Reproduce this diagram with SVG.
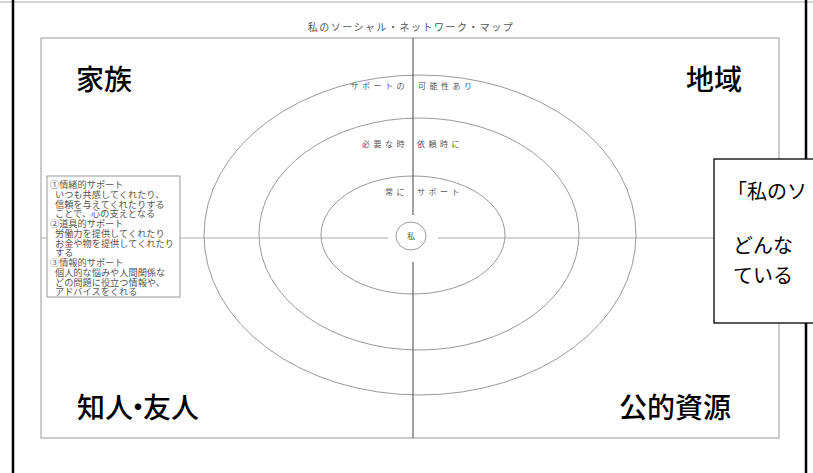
<svg xmlns="http://www.w3.org/2000/svg" width="813" height="473" viewBox="0 0 813 473">
<style>
.jp{font-family:"Noto Sans CJK JP","Noto Sans",sans-serif}
.big{font-size:28px;fill:#000;font-weight:500}
.ring{font-size:8px;fill:#555;letter-spacing:3.5px}
.note{font-size:9.2px;fill:#555}
.thin{fill:none;stroke:#999;stroke-width:1}
.axis{stroke:#444;stroke-width:1}
.haxis{stroke:#aaa;stroke-width:1}
.call{font-size:20px;fill:#000}
</style>
<rect width="813" height="473" fill="#fff"/>
<g id="frame">
<line x1="0" y1="2" x2="813" y2="2" stroke="#aaa" stroke-width="1"/>
<line x1="13" y1="0" x2="13" y2="473" stroke="#000" stroke-width="2.5"/>
<line x1="806" y1="0" x2="806" y2="473" stroke="#000" stroke-width="2.5"/>
</g>
<text class="jp" x="411" y="31" font-size="10" fill="#555" text-anchor="middle" letter-spacing="1.5">私のソーシャル・ネットワーク・マップ</text>
<g id="map">
<rect x="41" y="38" width="738" height="400" class="thin"/>
<ellipse cx="420" cy="235" rx="216" ry="160" class="thin"/>
<ellipse cx="419" cy="234" rx="160" ry="116" class="thin"/>
<ellipse cx="413" cy="235" rx="92" ry="59" class="thin"/>
</g>
<g id="connectors">
<line x1="413" y1="38" x2="413" y2="215" class="axis"/>
<line x1="413" y1="262" x2="413" y2="438" class="axis"/>
<line x1="41" y1="238" x2="388" y2="238" class="haxis"/>
<line x1="438" y1="238" x2="779" y2="238" class="haxis"/>
</g>
<g id="me">
<ellipse cx="411" cy="236" rx="15" ry="14" class="thin"/>
<text class="jp" x="411" y="239" font-size="8" fill="#555" text-anchor="middle">私</text>
</g>
<g id="ring-labels" class="jp ring">
<text x="408" y="89" text-anchor="end">サポートの</text>
<text x="418" y="89">可能性あり</text>
<text x="408" y="147" text-anchor="end">必要な時</text>
<text x="417" y="147">依頼時に</text>
<text x="408" y="195" text-anchor="end">常に</text>
<text x="417" y="195">サポート</text>
</g>
<g id="family"><text class="jp big" x="76" y="90">家族</text></g>
<g id="community"><text class="jp big" x="686" y="90">地域</text></g>
<g id="friends"><text class="jp big" x="77" y="418">知人<tspan dx="-9">・</tspan><tspan dx="-9">友人</tspan></text></g>
<g id="public"><text class="jp big" x="619" y="418">公的資源</text></g>
<g id="legend">
<rect x="47" y="176" width="133" height="121" fill="#fff" stroke="#999" stroke-width="1"/>
<text class="jp note"><tspan x="50" y="188">①情緒的サポート</tspan><tspan x="55" y="198">いつも共感してくれたり、</tspan><tspan x="55" y="208">信頼を与えてくれたりする</tspan><tspan x="55" y="217">ことで、心の支えとなる</tspan><tspan x="50" y="227">②道具的サポート</tspan><tspan x="55" y="237">労働力を提供してくれたり</tspan><tspan x="55" y="247">お金や物を提供してくれたり</tspan><tspan x="55" y="256">する</tspan><tspan x="50" y="266">③情報的サポート</tspan><tspan x="55" y="276">個人的な悩みや人間関係な</tspan><tspan x="55" y="286">どの問題に役立つ情報や、</tspan><tspan x="55" y="295">アドバイスをくれる</tspan></text>
</g>
<g id="callout">
<rect x="714" y="159" width="112" height="164" fill="#fff" stroke="#000" stroke-width="1.3"/>
<text class="jp call" x="727" y="199">「私のソ</text>
<text class="jp call" x="733" y="253">どんな</text>
<text class="jp call" x="733" y="283">ている</text>
</g>
</svg>
